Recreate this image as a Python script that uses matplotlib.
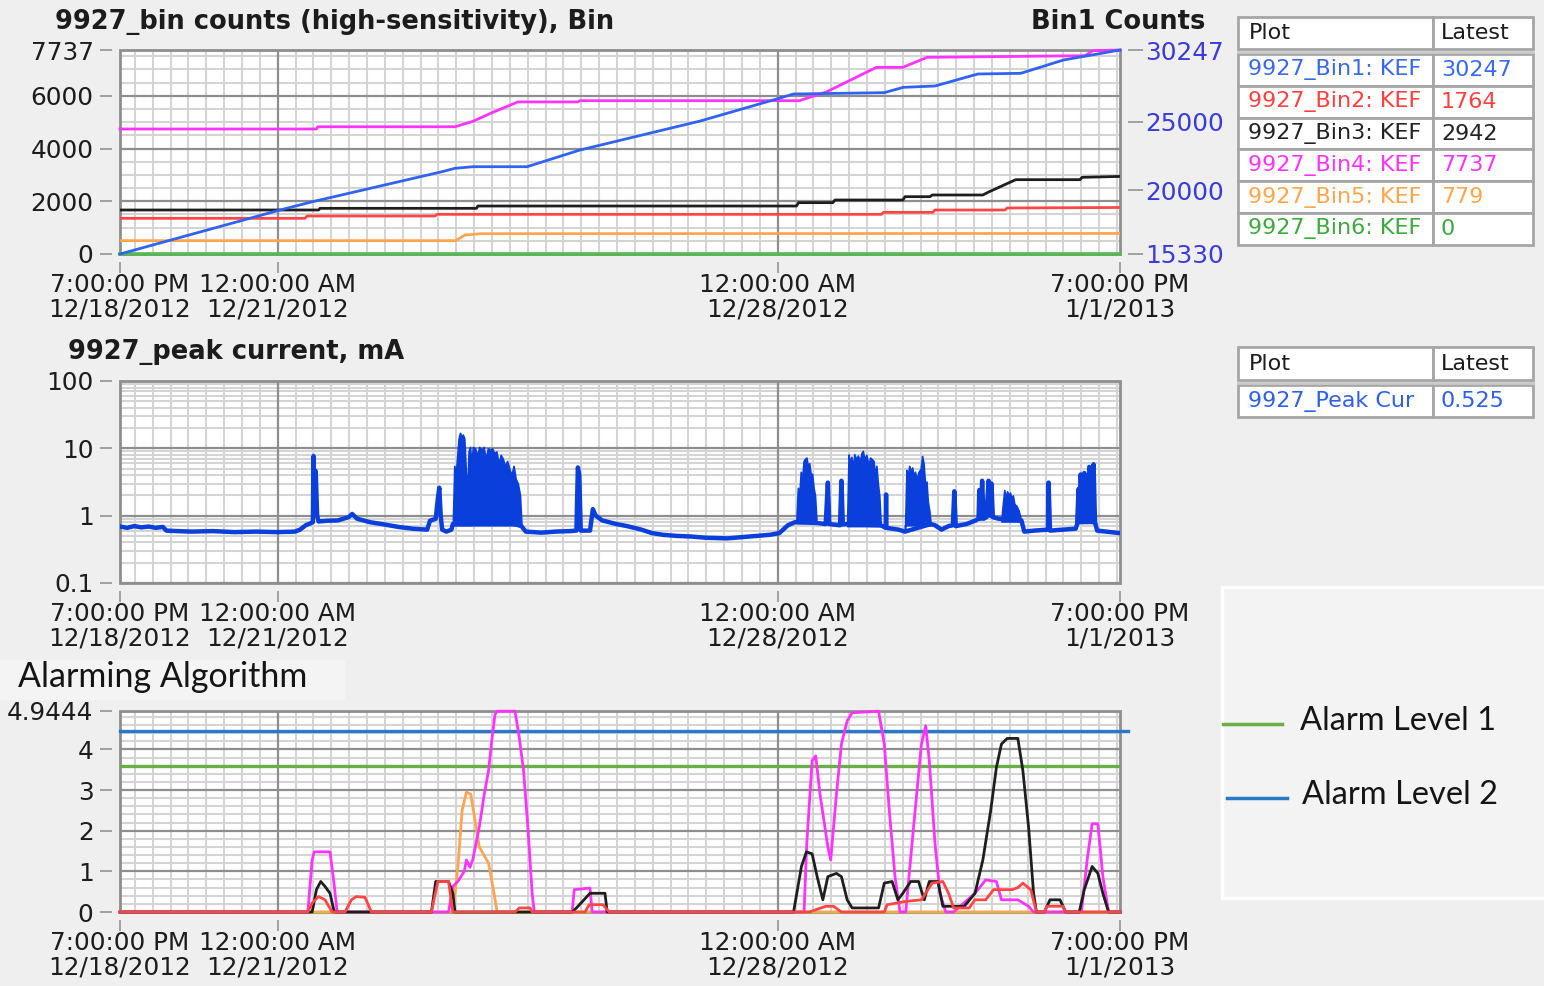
import numpy as np
import matplotlib
matplotlib.use("Agg")
import matplotlib.pyplot as plt
from matplotlib.patches import Rectangle
from matplotlib.ticker import NullFormatter

# ---------------- data (time in days after 7:00 PM 12/18/2012) ----------------
X_TICK_DAYS = [0, 53 / 24, 221 / 24, 14]
X_TICK_LABELS = ["7:00:00 PM\n12/18/2012", "12:00:00 AM\n12/21/2012",
                 "12:00:00 AM\n12/28/2012", "7:00:00 PM\n1/1/2013"]

BIN1_DAY = [0, 2.24, 2.695, 4.508, 4.69, 4.94, 5.70, 6.44, 8.12, 9.226, 9.43, 10.70,
            10.965, 11.41, 12.01, 12.61, 13.21, 14.0]
BIN1_CNT = [15330, 18547, 19154, 21348, 21596, 21713, 21713, 22934, 25050, 26713, 27030,
            27127, 27517, 27615, 28493, 28542, 29517, 30247]
BIN2_DAY = [0, 2.59, 2.62, 4.41, 4.44, 10.66, 10.69, 11.38, 11.41, 12.39, 12.42, 14.0]
BIN2_CNT = [1353, 1353, 1441, 1441, 1504, 1504, 1580, 1580, 1669, 1669, 1745, 1764]
BIN3_DAY = [0, 2.78, 2.80, 4.99, 5.01, 9.47, 9.50, 9.98, 10.01, 10.96, 10.99, 11.34, 11.37,
            12.08, 12.16, 12.54, 13.44, 13.47, 14.0]
BIN3_CNT = [1669, 1669, 1732, 1732, 1820, 1820, 1947, 1947, 2048, 2048, 2174, 2174, 2238,
            2238, 2350, 2819, 2819, 2908, 2942]
BIN4_DAY = [0, 2.75, 2.77, 4.69, 4.94, 5.20, 5.57, 6.41, 6.44, 9.51, 9.88, 10.59, 10.96,
            11.30, 13.51, 13.62, 14.0]
BIN4_CNT = [4741, 4741, 4826, 4826, 5030, 5350, 5768, 5768, 5815, 5815, 6132, 7080, 7080,
            7459, 7522, 7711, 7737]
BIN5_DAY = [0, 4.70, 4.83, 5.05, 14.0]
BIN5_CNT = [506, 506, 721, 770, 779]
BIN6_DAY = [0, 14.0]
BIN6_CNT = [0, 0]

TABLE1_NAMES = ["9927_Bin1: KEF", "9927_Bin2: KEF", "9927_Bin3: KEF",
                "9927_Bin4: KEF", "9927_Bin5: KEF", "9927_Bin6: KEF"]
TABLE1_LATEST = ["30247", "1764", "2942", "7737", "779", "0"]
TABLE1_COLORS = ["#3a68ec", "#ff4040", "#222222", "#ff33ff", "#ffa64d", "#3fa83f"]
TABLE2_NAMES = ["9927_Peak Cur"]
TABLE2_LATEST = ["0.525"]
TABLE2_COLORS = ["#2f5fe6"]

PEAK_DAY = [0.00, 0.10, 0.20, 0.30, 0.40, 0.50, 0.60, 0.65, 0.80, 1.00,
            1.30, 1.60, 1.90, 2.20, 2.45, 2.52, 2.60, 2.68, 2.70, 2.71,
            2.725, 2.74, 2.76, 2.78, 2.90, 3.05, 3.20, 3.25, 3.32, 3.50,
            3.70, 3.90, 4.10, 4.30, 4.34, 4.42, 4.45, 4.47, 4.49, 4.51,
            4.57, 4.64, 4.66, 4.90, 5.20, 5.50, 5.62, 5.68, 5.90, 6.10,
            6.30, 6.39, 6.41, 6.43, 6.45, 6.58, 6.62, 6.66, 6.75, 6.95,
            7.10, 7.30, 7.45, 7.60, 7.80, 8.00, 8.20, 8.50, 8.80, 9.10,
            9.23, 9.35, 9.45, 9.75, 9.88, 9.91, 9.93, 10.08, 10.10, 10.12,
            10.18, 10.65, 10.72, 10.725, 10.73, 10.90, 10.99, 11.35, 11.41, 11.50,
            11.60, 11.66, 11.68, 11.70, 11.85, 11.98, 12.02, 12.03, 12.05, 12.07,
            12.09, 12.13, 12.16, 12.18, 12.20, 12.22, 12.30, 12.62, 12.66, 12.80,
            12.99, 13.00, 13.02, 13.20, 13.38, 13.40, 13.42, 13.44, 13.45, 13.47,
            13.48, 13.49, 13.50, 13.52, 13.53, 13.55, 13.57, 13.59, 13.60, 13.62,
            13.63, 13.65, 13.68, 13.80, 14.00]
PEAK_MA = [0.69, 0.66, 0.70, 0.67, 0.69, 0.66, 0.68, 0.60, 0.59, 0.58,
           0.59, 0.57, 0.58, 0.57, 0.58, 0.62, 0.72, 0.78, 0.80, 7.7,
           1.2, 4.6, 1.0, 0.82, 0.84, 0.85, 0.95, 1.06, 0.90, 0.80,
           0.74, 0.68, 0.64, 0.62, 0.84, 0.90, 1.8, 2.6, 1.0, 0.62,
           0.58, 0.62, 0.75, 0.75, 0.78, 0.76, 0.70, 0.58, 0.56, 0.58,
           0.59, 0.60, 5.2, 4.0, 0.60, 0.60, 1.25, 1.0, 0.85, 0.75,
           0.70, 0.62, 0.55, 0.52, 0.50, 0.49, 0.47, 0.46, 0.49, 0.52,
           0.55, 0.72, 0.80, 0.78, 0.75, 3.1, 0.75, 0.72, 3.3, 0.74,
           0.75, 0.72, 0.66, 2.06, 0.66, 0.62, 0.58, 0.75, 0.72, 0.62,
           0.70, 0.72, 2.3, 0.70, 0.75, 0.85, 0.90, 2.4, 0.9, 3.3,
           0.9, 0.95, 3.3, 1.0, 3.0, 0.95, 0.9, 0.85, 0.58, 0.60,
           0.62, 3.1, 0.60, 0.62, 0.64, 0.75, 2.5, 0.8, 4.1, 0.8,
           1.5, 0.8, 4.3, 0.8, 2.0, 0.8, 5.3, 0.8, 3.0, 0.8,
           5.8, 0.8, 0.60, 0.58, 0.55]

BURST1_DAY = [4.66, 4.68, 4.70, 4.72, 4.74, 4.76, 4.78, 4.80, 4.82, 4.84,
              4.86, 4.88, 4.90, 4.92, 4.94, 4.97, 5.00, 5.03, 5.06, 5.09,
              5.12, 5.15, 5.18, 5.21, 5.24, 5.27, 5.30, 5.33, 5.36, 5.39,
              5.42, 5.45, 5.48, 5.51, 5.54, 5.57, 5.60, 5.62]
BURST1_TOP = [0.8, 5.5, 4.0, 7.5, 14, 17, 15, 16, 14, 5.0,
              2.0, 9.0, 10.5, 6.0, 10.5, 10.0, 8.0, 10.5, 9.5, 10.5,
              7.0, 10.0, 9.5, 10.0, 8.5, 9.0, 6.0, 8.0, 7.0, 5.5,
              6.5, 5.0, 4.0, 5.5, 3.5, 3.0, 2.0, 0.75]
BURST2_DAY = [9.47, 9.49, 9.51, 9.53, 9.55, 9.57, 9.59, 9.61, 9.63, 9.65, 9.67, 9.69, 9.71, 9.73, 9.75]
BURST2_TOP = [0.9, 2.6, 2.0, 4.5, 3.5, 6.5, 7.0, 7.3, 5.5, 6.0, 4.0, 4.2, 2.6, 2.0, 0.85]
BURST3_DAY = [10.18, 10.20, 10.22, 10.24, 10.26, 10.28, 10.30, 10.33, 10.36, 10.38, 10.40,
              10.42, 10.45, 10.48, 10.50, 10.52, 10.55, 10.57, 10.59, 10.61, 10.63, 10.65]
BURST3_TOP = [0.8, 8.1, 6.0, 7.5, 5.0, 8.2, 7.0, 7.8, 6.5, 8.5, 9.2,
              7.0, 8.0, 5.5, 7.3, 7.0, 6.5, 4.0, 5.5, 3.0, 2.0, 0.75]
BURST4_DAY = [10.99, 11.01, 11.03, 11.05, 11.07, 11.09, 11.11, 11.13, 11.15,
              11.18, 11.21, 11.23, 11.25, 11.27, 11.29, 11.31, 11.33, 11.35]
BURST4_TOP = [0.6, 4.8, 4.0, 5.5, 4.5, 5.2, 3.8, 4.5, 3.5,
              4.5, 5.0, 7.7, 6.0, 3.0, 3.2, 1.6, 1.2, 0.75]
BURST5_DAY = [12.34, 12.36, 12.38, 12.40, 12.42, 12.44, 12.46, 12.48, 12.50, 12.52, 12.55, 12.58, 12.61]
BURST5_TOP = [0.9, 1.5, 2.4, 1.8, 2.3, 2.0, 2.2, 1.8, 2.0, 1.5, 1.4, 1.2, 0.9]
BURST_LOW = [0.72, 0.78, 0.70, 0.72, 0.82]

ALARM_LEVELS = [3.6, 4.46]
ALARM_NAMES = ["Alarm Level 1", "Alarm Level 2"]

ALARM_MAG_DAY = [0, 2.63, 2.69, 2.72, 2.94, 2.99, 3.04, 4.60, 4.66, 4.73,
                 4.82, 4.85, 4.90, 4.94, 5.03, 5.10, 5.16, 5.21, 5.25, 5.28,
                 5.53, 5.59, 5.65, 5.71, 5.77, 5.80, 6.33, 6.36, 6.58, 6.61,
                 9.577, 9.615, 9.69, 9.74, 9.80, 9.91, 9.95, 10.03, 10.10, 10.18,
                 10.25, 10.62, 10.70, 10.77, 10.85, 10.92, 11.0, 11.11, 11.22, 11.28,
                 11.33, 11.41, 11.48, 11.56, 11.67, 11.97, 12.12, 12.27, 12.34, 12.57,
                 12.72, 12.79, 13.46, 13.54, 13.61, 13.69, 13.76, 13.84, 14.0]
ALARM_MAG = [0, 0, 1.28, 1.48, 1.48, 0.8, 0, 0, 0.63, 0.75,
             1.0, 1.28, 1.10, 1.3, 2.09, 2.9, 3.48, 4.3, 4.86, 4.94,
             4.94, 4.29, 3.48, 2.09, 0.46, 0, 0, 0.55, 0.59, 0,
             0, 1.69, 3.72, 3.84, 2.9, 1.6, 1.28, 2.9, 4.13, 4.7,
             4.9, 4.94, 4.13, 2.5, 0.87, 0, 0, 2.09, 4.13, 4.58,
             3.72, 1.69, 0.46, 0, 0, 0.46, 0.79, 0.75, 0.3, 0.3,
             0.14, 0, 0, 1.28, 2.17, 2.17, 0.87, 0, 0]
ALARM_BLK_DAY = [0, 2.69, 2.75, 2.81, 2.87, 2.94, 3.0, 4.36, 4.42, 4.60,
                 4.66, 4.69, 6.33, 6.39, 6.58, 6.79, 6.82, 9.43, 9.54, 9.61,
                 9.69, 9.76, 9.84, 9.91, 10.03, 10.10, 10.18, 10.25, 10.62, 10.70,
                 10.81, 10.89, 10.96, 11.07, 11.18, 11.26, 11.33, 11.45, 11.52, 11.82,
                 11.97, 12.08, 12.19, 12.27, 12.34, 12.42, 12.57, 12.64, 12.72, 12.79,
                 12.83, 12.94, 13.02, 13.16, 13.24, 13.43, 13.50, 13.61, 13.69, 13.76,
                 13.84, 14.0]
ALARM_BLK = [0, 0, 0.55, 0.75, 0.63, 0.46, 0, 0, 0.75, 0.75,
             0.46, 0, 0, 0.1, 0.46, 0.46, 0, 0, 1.12, 1.48,
             1.43, 0.87, 0.3, 0.87, 0.95, 0.87, 0.3, 0.1, 0.1, 0.71,
             0.75, 0.3, 0.46, 0.75, 0.75, 0.3, 0.75, 0.75, 0.14, 0.14,
             0.46, 1.28, 2.5, 3.56, 4.13, 4.27, 4.27, 3.48, 2.09, 0.46,
             0, 0, 0.3, 0.3, 0, 0, 0.55, 1.12, 0.95, 0.46,
             0, 0]
ALARM_RED_DAY = [0, 2.63, 2.69, 2.78, 2.87, 2.97, 3.15, 3.24, 3.31, 3.43,
                 3.52, 4.36, 4.45, 4.60, 4.66, 5.53, 5.59, 5.74, 5.77, 6.51,
                 6.57, 6.76, 6.85, 9.65, 9.88, 9.99, 10.10, 10.70, 10.74, 11.0,
                 11.22, 11.37, 11.52, 11.60, 11.67, 11.89, 11.97, 12.12, 12.23, 12.49,
                 12.57, 12.64, 12.75, 12.83, 12.94, 12.98, 13.20, 13.24, 14.0]
ALARM_RED = [0, 0, 0.22, 0.38, 0.3, 0, 0, 0.3, 0.38, 0.36,
             0, 0, 0.75, 0.75, 0, 0, 0.1, 0.1, 0, 0,
             0.18, 0.18, 0, 0, 0.14, 0.14, 0, 0, 0.18, 0.26,
             0.3, 0.71, 0.75, 0.46, 0.1, 0.1, 0.3, 0.3, 0.55, 0.55,
             0.6, 0.71, 0.55, 0, 0, 0.14, 0.14, 0, 0]
ALARM_ORG_DAY = [0, 4.66, 4.73, 4.79, 4.85, 4.91, 4.97, 5.03, 5.16, 5.22, 5.28, 14.0]
ALARM_ORG = [0, 0, 1.1, 2.5, 2.95, 2.9, 2.26, 1.6, 1.2, 0.63, 0, 0]
ALARM_GRN_DAY = [0, 14.0]
ALARM_GRN = [0, 0]

# ---------------- styling ----------------
plt.rcParams['font.family'] = ['DejaVu Sans']
W, H = 1544, 986
BG = '#efefef'
MAJOR_C = '#8e8e8e'
MINOR_C = '#d4d4d4'
TICK_C = '#9a9a9a'
TXT = '#1c1c1c'
FS = 17.8

C_BLUE, C_RED, C_BLACK, C_MAG, C_ORG, C_GRN = '#3163f0', '#ff4646', '#1e1e1e', '#ff33ff', '#ffa54f', '#55b855'
C_PEAK = '#0a3fdc'
C_LVL = ['#6aae48', '#2a78c8']

fig = plt.figure(figsize=(W / 100, H / 100), dpi=100)
fig.patch.set_facecolor(BG)


def px_axes(l, t, r, b, **kw):
    return fig.add_axes([l / W, 1 - b / H, (r - l) / W, (b - t) / H], **kw)


X_MINOR = [v for v in np.arange(5 / 24, 14, 0.25)
           if min(abs(v - t) for t in X_TICK_DAYS) > 1e-6]


def style(ax, yticks, ylabels, yminor):
    ax.set_facecolor('white')
    ax.set_xlim(0, 14)
    for s in ax.spines.values():
        s.set_visible(False)
    ax.spines['left'].set_position(('outward', 6))
    ax.spines['bottom'].set_position(('outward', 6))
    ax.set_xticks(X_TICK_DAYS)
    ax.set_xticklabels(X_TICK_LABELS)
    ax.set_yticks(yticks)
    ax.set_yticklabels(ylabels)
    ax.yaxis.set_minor_locator(matplotlib.ticker.NullLocator())
    ax.xaxis.set_minor_locator(matplotlib.ticker.NullLocator())
    ax.tick_params(which='major', length=9, width=1.3, color=TICK_C,
                   labelsize=FS, labelcolor=TXT)
    ax.tick_params(axis='x', which='major', pad=0, length=8)
    ax.tick_params(axis='y', which='major', pad=4)
    for lbl in ax.get_xticklabels():
        lbl.set_linespacing(1.0)
    # grid: light minor lines first, darker major lines on top, all under the data
    for v in X_MINOR:
        ax.axvline(v, color=MINOR_C, lw=1.5, zorder=0.6)
    for v in yminor:
        ax.axhline(v, color=MINOR_C, lw=1.5, zorder=0.6)
    for v in X_TICK_DAYS[1:-1]:
        ax.axvline(v, color=MAJOR_C, lw=1.6, zorder=0.8)
    for v in yticks:
        ax.axhline(v, color=MAJOR_C, lw=1.6, zorder=0.8)
    ax.add_patch(Rectangle((0, 0), 1, 1, transform=ax.transAxes, fill=False,
                           ec=MAJOR_C, lw=2, clip_on=False, zorder=1.5))


def ftext(x, y, s, **kw):
    return fig.text(x / W, 1 - y / H, s, **kw)


# light band behind the "Alarming Algorithm" heading (drawn under everything)
fig.add_artist(Rectangle((0, 1 - 700 / H), 345 / W, 40 / H, transform=fig.transFigure,
                         fc='#f4f4f4', ec='none', zorder=-5))

# ---------------- panel 1: bin counts ----------------
ax1 = px_axes(120, 50, 1120, 254)
ax1.set_ylim(0, 7737)
style(ax1, [0, 2000, 4000, 6000, 7737], ["0", "2000", "4000", "6000", "7737"],
      [v for v in range(500, 7737, 500) if v % 2000])
lw = 2.0
ax1.plot(BIN6_DAY, BIN6_CNT, color=C_GRN, lw=lw + 0.6, clip_on=False, zorder=3)
ax1.plot(BIN5_DAY, BIN5_CNT, color=C_ORG, lw=lw, zorder=3)
ax1.plot(BIN2_DAY, BIN2_CNT, color=C_RED, lw=lw, zorder=3)
ax1.plot(BIN3_DAY, BIN3_CNT, color=C_BLACK, lw=lw, zorder=3)
ax1.plot(BIN4_DAY, BIN4_CNT, color=C_MAG, lw=lw, clip_on=False, zorder=3)

ax1r = ax1.twinx()
ax1r.set_ylim(15330, 30247)
for s in ax1r.spines.values():
    s.set_visible(False)
ax1r.spines['right'].set_position(('outward', 6))
ax1r.set_yticks([15330, 20000, 25000, 30247])
ax1r.set_yticklabels(["15330", "20000", "25000", "30247"])
ax1r.yaxis.set_minor_locator(matplotlib.ticker.NullLocator())
ax1r.tick_params(axis='y', length=11, width=1.3, color=TICK_C, labelsize=FS,
                 labelcolor='#3b3bd8', pad=1)
ax1r.plot(BIN1_DAY, BIN1_CNT, color=C_BLUE, lw=lw, clip_on=False, zorder=4)

ftext(55, 22, "9927_bin counts (high-sensitivity), Bin", fontsize=18.5, fontweight='bold',
      color=TXT, ha='left', va='center')
ftext(1205, 22, "Bin1 Counts", fontsize=18.5, fontweight='bold', color=TXT, ha='right', va='center')

# ---------------- panel 2: peak current ----------------
ax2 = px_axes(120, 381, 1120, 583)
ax2.set_yscale('log')
ax2.set_ylim(0.1, 100)
log_minor = [m * d for d in (0.1, 1, 10) for m in range(2, 10)]
style(ax2, [0.1, 1, 10, 100], ["0.1", "1", "10", "100"], log_minor)
ax2.yaxis.set_minor_formatter(NullFormatter())
burst_days = [BURST1_DAY, BURST2_DAY, BURST3_DAY, BURST4_DAY, BURST5_DAY]
burst_tops = [BURST1_TOP, BURST2_TOP, BURST3_TOP, BURST4_TOP, BURST5_TOP]
for bd, bt, lo in zip(burst_days, burst_tops, BURST_LOW):
    ax2.fill_between(bd, lo, bt, color=C_PEAK, lw=1.2, ec=C_PEAK, zorder=3)
ax2.plot(PEAK_DAY, PEAK_MA, color=C_PEAK, lw=3.2, zorder=3)
ftext(68, 352, "9927_peak current, mA", fontsize=18.5, fontweight='bold', color=TXT,
      ha='left', va='center')

# ---------------- panel 3: alarming algorithm ----------------
ax3 = px_axes(120, 711, 1120, 912)
ax3.set_ylim(0, 4.9444)
style(ax3, [0, 1, 2, 3, 4, 4.9444], ["0", "1", "2", "3", "4", "4.9444"],
      [v / 5 for v in range(1, 25) if v % 5])
lw3 = 2.0
ax3.axhline(ALARM_LEVELS[0], color=C_LVL[0], lw=2.4, zorder=2.6)
ax3.axhline(ALARM_LEVELS[1], xmax=1.008, color=C_LVL[1], lw=2.4, zorder=2.6, clip_on=False)
ax3.plot(ALARM_GRN_DAY, ALARM_GRN, color=C_GRN, lw=lw3, clip_on=False, zorder=3)
ax3.plot(ALARM_ORG_DAY, ALARM_ORG, color=C_ORG, lw=lw3, clip_on=False, zorder=3)
ax3.plot(ALARM_MAG_DAY, ALARM_MAG, color=C_MAG, lw=lw3, clip_on=False, zorder=3)
ax3.plot(ALARM_BLK_DAY, ALARM_BLK, color=C_BLACK, lw=lw3, clip_on=False, zorder=3)
ax3.plot(ALARM_RED_DAY, ALARM_RED, color=C_RED, lw=lw3, clip_on=False, zorder=3)

# ---------------- overlay: tables, legend, headings ----------------
ov = fig.add_axes([0, 0, 1, 1], zorder=5)
ov.set_xlim(0, W)
ov.set_ylim(H, 0)
ov.axis('off')

ov.text(18, 677, "Alarming Algorithm", fontsize=24.5, family=['Lato', 'DejaVu Sans'],
        color='#151515', ha='left', va='center')

EC = '#a6a6a6'
FS_T = 16


def table(top, hdr_h, row_h, names, vals, cols, left=1238, split=1433, right=1533):
    ov.add_patch(Rectangle((left, top), split - left, hdr_h, fc='white', ec=EC, lw=2))
    ov.add_patch(Rectangle((split, top), right - split, hdr_h, fc='white', ec=EC, lw=2))
    ov.text(left + 11, top + hdr_h / 2, "Plot", fontsize=FS_T, color=TXT, va='center')
    ov.text(split + 8, top + hdr_h / 2, "Latest", fontsize=FS_T, color=TXT, va='center')
    y0 = top + hdr_h + 5
    ov.plot([left, right], [top + hdr_h + 2.5] * 2, color='#c9c9c9', lw=2)
    for i, (n, v, c) in enumerate(zip(names, vals, cols)):
        yt = y0 + i * row_h
        r1 = Rectangle((left, yt), split - left, row_h, fc='white', ec=EC, lw=2)
        r2 = Rectangle((split, yt), right - split, row_h, fc='white', ec=EC, lw=2)
        ov.add_patch(r1)
        ov.add_patch(r2)
        t = ov.text(left + 10, yt + row_h / 2, n, fontsize=FS_T, color=c, va='center')
        t.set_clip_path(r1)
        ov.text(split + 8, yt + row_h / 2, v, fontsize=FS_T, color=c, va='center')


table(17, 32, 31.8, TABLE1_NAMES, TABLE1_LATEST, TABLE1_COLORS)
table(347, 33, 32, TABLE2_NAMES, TABLE2_LATEST, TABLE2_COLORS)

# alarm legend box
ov.add_patch(Rectangle((1222, 587), 340, 311, fc='#f3f3f3', ec='white', lw=2.5))
for i, (name, c) in enumerate(zip(ALARM_NAMES, C_LVL)):
    y = 724 + i * 74
    ov.plot([1223 + 4 * i, 1282 + 5 * i], [y, y], color=c, lw=2.5)
    ov.text(1300 + 2 * i, y - 3, name, fontsize=23.5, family=['Lato', 'DejaVu Sans'],
            color='#151515', ha='left', va='center')

fig.savefig('out.png', dpi=100, facecolor=fig.get_facecolor())
